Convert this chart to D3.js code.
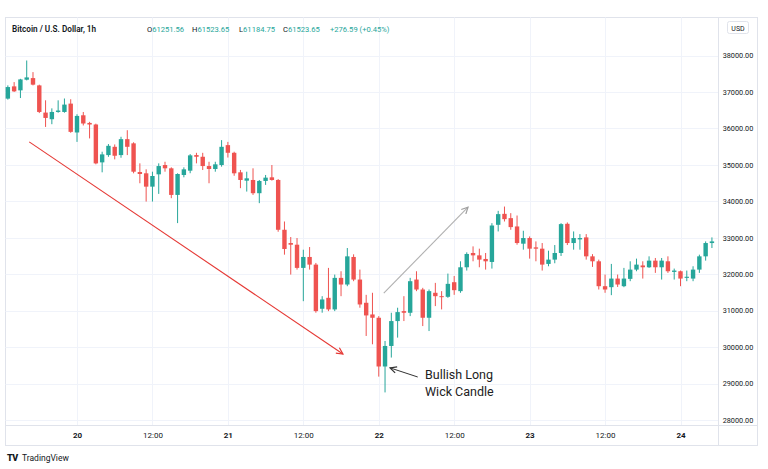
<!DOCTYPE html>
<html>
<head>
<meta charset="utf-8">
<title>Bitcoin / U.S. Dollar, 1h</title>
<style>
  body { margin: 0; background: #fff; }
  svg { display: block; }
  text { font-family: Roboto, "Noto Sans", sans-serif; }
</style>
<script src="https://d3js.org/d3.v7.min.js"></script>
</head>
<body>
<svg width="768" height="469"></svg>
<script>
// hourly candles, first one at 19 Jun 13:00 UTC
const startTime = Date.UTC(2021, 5, 19, 13);
const opens = [36817,37153,37044,37336,37380,37180,36434,36252,36451,36451,36680,35888,36360,36150,36107,35068,35268,35495,35268,35705,
  35590,34803,34768,34402,34740,34995,34905,34175,34722,34840,35268,35222,34967,34886,34995,35541,35331,34795,34566,34585,
  34222,34558,34658,34585,33219,32855,32809,32173,32473,32263,31052,31352,31034,31899,31717,32473,31853,31216,30896,30805,
  29468,30031,30714,30987,30942,31853,31580,30805,31490,31397,31380,31780,31535,32190,32582,32517,32418,32336,33355,33656,
  33538,33310,32837,32992,32736,32700,32282,32400,32582,33383,32855,32955,33010,32490,32354,31671,31644,31880,31671,31872,
  32126,32240,32190,32372,32190,32354,32063,32081,31900,31880,32126,32490,32855];
const highs = [37180,37270,37360,37863,37544,37200,36771,36550,36770,36820,36800,36388,36450,36180,36130,35360,35570,35560,35770,35950,
  35620,35041,34877,34812,35041,35085,34932,34768,34932,35295,35330,35330,35085,35085,35678,35630,35360,34860,34812,34905,
  34585,34722,34995,34610,33446,33020,32992,32672,32745,32309,31397,32173,31990,32081,32718,32545,32126,31434,31490,30850,
  30168,30942,31080,31397,31900,32081,31626,31580,31762,31535,32017,31950,32354,32600,32763,32700,32582,33400,33738,33856,
  33675,33610,33192,33036,32900,32855,32645,32800,33400,33420,33173,33100,33100,32550,32400,31990,32282,31990,32173,32354,
  32427,32354,32490,32445,32445,32490,32154,32100,32100,32218,32536,32900,33010];
const lows = [36790,37000,36833,37317,37180,36420,36040,36115,36430,36430,35880,35630,36080,35725,35015,34795,35220,35150,35195,35268,
  34768,34495,33992,33992,34203,34812,34085,33402,34658,34770,35041,34858,34495,34812,34950,35200,34700,34360,34267,34175,
  33949,34449,34567,33165,32536,31990,32126,31260,32126,30944,30944,30987,30987,31397,31671,31808,31080,30305,30077,29190,
  28757,29713,30260,30714,30850,31535,30577,30440,31125,31034,31352,31434,31490,32100,32354,32190,32126,32154,33173,33446,
  33219,32809,32673,32427,32354,32100,32218,32300,32500,32800,32673,32673,32400,32200,31580,31490,31425,31650,31644,31808,
  32081,31880,32173,32036,31853,32036,31853,31671,31808,31808,32036,32372,32718];
const closes = [37134,37016,37344,37399,37200,36451,36287,36451,36490,36653,35905,36342,36134,36107,35040,35287,35522,35250,35705,35495,
  34812,34749,34402,34694,34967,34905,34175,34749,34877,35260,35222,34967,34886,35014,35495,35331,34768,34585,34630,34222,
  34558,34649,34585,33219,32692,32809,32173,32473,32263,30987,31307,31034,31899,31717,32490,31853,31170,30869,30805,29468,
  30031,30714,30960,30942,31808,31580,30805,31535,31397,31370,31735,31562,32190,32555,32517,32400,32354,33336,33648,33510,
  33292,32855,32992,32700,32700,32263,32400,32582,33374,32855,32992,32992,32490,32354,31671,31580,31880,31717,31880,32126,
  32263,32190,32372,32190,32372,32081,32100,31880,31930,32126,32490,32855,32900];

const priceTicks = [28000,29000,30000,31000,32000,33000,34000,35000,36000,37000,38000];
const legendParts = [["O","61251.56"],["H","61523.65"],["L","61184.75"],["C","61523.65"],["","+276.59 (+0.45%)"]];
const noteLines = ["Bullish Long", "Wick Candle"];

// annotation arrows as [hours from start, price]
const downTrend = [[3.4, 35630], [53.3, 29810]];
const upTrend = [[59.8, 31480], [73.2, 33840]];
const wickPointer = [[65.2, 29180], [60.8, 29430]];

const up = "#26a69a", down = "#ef5350";
const hour = 3600 * 1000;
const candles = opens.map((o, i) => ({
  t: new Date(startTime + i * hour), o: o, h: highs[i], l: lows[i], c: closes[i]
}));

const svg = d3.select("svg");
const plotLeft = 5.5, plotRight = 718.5, plotTop = 17.5, plotBottom = 425.5, outerRight = 757.5, outerBottom = 445.5;

const x = d3.scaleUtc()
  .domain([new Date(Date.UTC(2021, 5, 20)), new Date(Date.UTC(2021, 5, 24))])
  .range([77, 680.5]);
const y = d3.scaleLinear().domain([28000, 38000]).range([420, 55.5]);
const hx = h => x(new Date(startTime + h * hour));

// frame
svg.append("rect").attr("x", plotLeft).attr("y", plotTop)
  .attr("width", outerRight - plotLeft).attr("height", outerBottom - plotTop)
  .attr("fill", "none").attr("stroke", "#e0e3eb");

// grid
const xTicks = x.ticks(d3.utcHour.every(12));
svg.append("g").selectAll("line").data(priceTicks).join("line")
  .attr("x1", plotLeft).attr("x2", plotRight)
  .attr("y1", d => Math.round(y(d)) + 0.5).attr("y2", d => Math.round(y(d)) + 0.5)
  .attr("stroke", "#f0f3fa");
svg.append("g").selectAll("line").data(xTicks).join("line")
  .attr("x1", d => Math.round(x(d)) + 0.5).attr("x2", d => Math.round(x(d)) + 0.5)
  .attr("y1", plotTop).attr("y2", plotBottom)
  .attr("stroke", "#f0f3fa");

// separators
svg.append("line").attr("x1", plotRight).attr("x2", plotRight).attr("y1", plotTop).attr("y2", outerBottom).attr("stroke", "#e0e3eb");
svg.append("line").attr("x1", plotLeft).attr("x2", outerRight).attr("y1", plotBottom).attr("y2", plotBottom).attr("stroke", "#e0e3eb");

// candles
const g = svg.append("g");
g.selectAll("line").data(candles).join("line")
  .attr("x1", d => x(d.t)).attr("x2", d => x(d.t))
  .attr("y1", d => y(d.h)).attr("y2", d => y(d.l))
  .attr("stroke", d => d.c >= d.o ? up : down).attr("stroke-width", 1);
g.selectAll("rect").data(candles).join("rect")
  .attr("x", d => x(d.t) - 2.2).attr("width", 4.4)
  .attr("y", d => y(Math.max(d.o, d.c)))
  .attr("height", d => Math.max(1, Math.abs(y(d.o) - y(d.c))))
  .attr("fill", d => d.c >= d.o ? up : down);

// price axis
const yAxis = svg.append("g").attr("transform", `translate(${plotRight},0)`)
  .call(d3.axisRight(y).tickValues(priceTicks).tickSize(0).tickPadding(0).tickFormat(d3.format(".2f")));
yAxis.select(".domain").remove();
yAxis.selectAll("text").attr("x", 19.5).attr("text-anchor", "middle")
  .attr("font-size", 7.3).attr("fill", "#131722").attr("font-family", "Roboto, sans-serif");

// time axis
const xAxis = svg.append("g").attr("transform", `translate(0,${plotBottom})`)
  .call(d3.axisBottom(x).tickValues(xTicks).tickSize(0).tickPadding(0)
    .tickFormat(d => d.getUTCHours() === 0 ? d3.utcFormat("%-d")(d) : d3.utcFormat("%H:%M")(d)));
xAxis.select(".domain").remove();
xAxis.selectAll("text").attr("y", 6.5).attr("font-size", 8).attr("fill", "#131722")
  .attr("font-family", "Roboto, sans-serif")
  .attr("font-weight", d => d.getUTCHours() === 0 ? "bold" : "normal");

// header
svg.append("text").attr("x", 12).attr("y", 32).attr("font-size", 8.2).attr("font-weight", 600)
  .attr("fill", "#131722").text("Bitcoin / U.S. Dollar, 1h");
const legendX = [147, 192, 239, 283, 330];
legendParts.forEach((p, i) => {
  const t = svg.append("text").attr("x", legendX[i]).attr("y", 32).attr("font-size", 7.6);
  if (p[0]) t.append("tspan").attr("fill", "#131722").text(p[0]);
  t.append("tspan").attr("fill", up).text(p[1]);
});

// USD badge
svg.append("rect").attr("x", 727.5).attr("y", 21.5).attr("width", 21).attr("height", 12).attr("rx", 2)
  .attr("fill", "#fff").attr("stroke", "#e0e3eb");
svg.append("text").attr("x", 738).attr("y", 30.5).attr("text-anchor", "middle").attr("font-size", 7)
  .attr("fill", "#131722").text("USD");

// annotations
const defs = svg.append("defs");
function marker(id, color, size) {
  defs.append("marker").attr("id", id).attr("viewBox", "0 0 10 10").attr("refX", 9).attr("refY", 5)
    .attr("markerWidth", size).attr("markerHeight", size).attr("orient", "auto-start-reverse")
    .attr("markerUnits", "userSpaceOnUse")
    .append("path").attr("d", "M1,1 L9,5 L1,9").attr("fill", "none").attr("stroke", color).attr("stroke-width", 1.5);
}
marker("redHead", "#e53935", 8);
marker("grayHead", "#a0a0a0", 8);
marker("blackHead", "#333", 8);
function arrow(pts, color, id, w) {
  svg.append("line")
    .attr("x1", hx(pts[0][0])).attr("y1", y(pts[0][1]))
    .attr("x2", hx(pts[1][0])).attr("y2", y(pts[1][1]))
    .attr("stroke", color).attr("stroke-width", w).attr("marker-end", `url(#${id})`);
}
arrow(downTrend, "#e53935", "redHead", 1.1);
arrow(upTrend, "#b0b0b0", "grayHead", 1.1);
arrow(wickPointer, "#333", "blackHead", 1);

const note = svg.append("text").attr("font-family", "Lato, 'Open Sans', sans-serif").attr("font-size", 12.5).attr("fill", "#222");
noteLines.forEach((t, i) => note.append("tspan").attr("x", 425).attr("y", 379 + i * 17).text(t));

// footer logo
svg.append("text").attr("x", 7).attr("y", 461).attr("font-size", 9).attr("font-weight", 900)
  .attr("fill", "#131722").attr("letter-spacing", -0.5).text("TV");
svg.append("text").attr("x", 22).attr("y", 461).attr("font-size", 8.5)
  .attr("fill", "#131722").text("TradingView");
</script>
</body>
</html>
